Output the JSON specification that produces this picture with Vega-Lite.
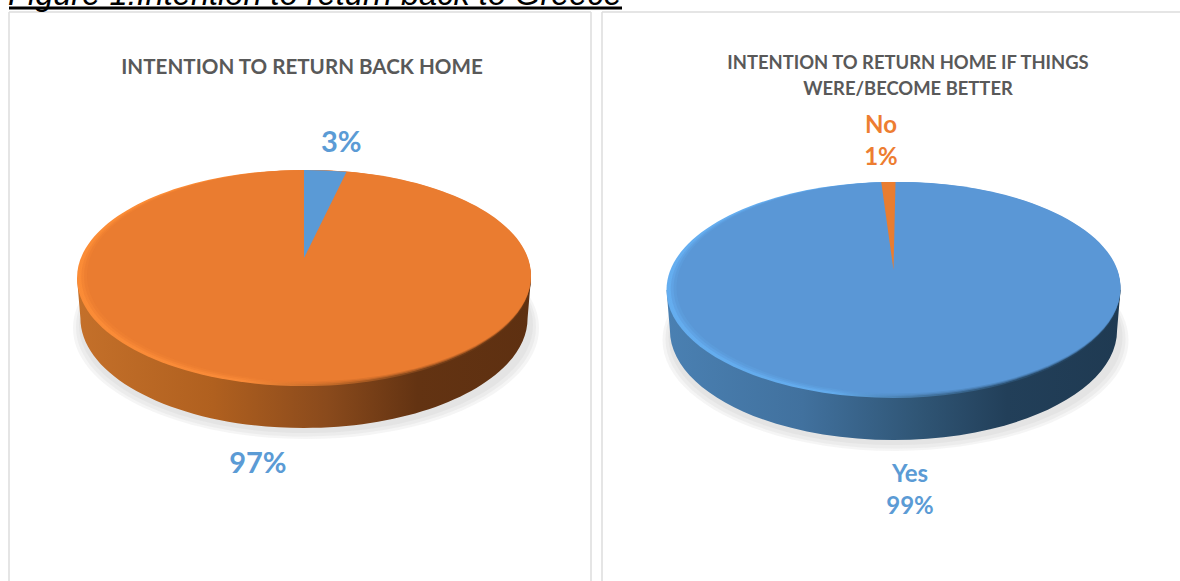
{
  "$schema": "https://vega.github.io/schema/vega-lite/v6.json",
  "background": "white",
  "padding": {"left": 7, "top": -21, "right": 0, "bottom": 0},
  "spacing": 11,
  "bounds": "flush",
  "config": {"view": {"stroke": null}, "title": {"font": "Lato", "fontWeight": "bold", "color": "#595959", "frame": "group", "anchor": "middle"}},
  "datasets": {
    "responses": [
      {"panel": "back home", "answer": "No", "share": 3},
      {"panel": "back home", "answer": "Yes", "share": 97},
      {"panel": "if better", "answer": "Yes", "share": 99},
      {"panel": "if better", "answer": "No", "share": 1}
    ]
  },
  "hconcat": [
    {
      "width": 582,
      "height": 569,
      "title": {"text": "INTENTION TO RETURN BACK HOME", "fontSize": 20.6, "offset": -100, "dx": 2},
      "data": {"name": "responses"},
      "transform": [
        {"filter": "datum.panel === 'back home'"},
        {"stack": "share", "groupby": ["panel"], "as": ["s0", "s1"]},
        {"calculate": "(datum.s0 + datum.s1) / 100 * PI", "as": "mid"},
        {"calculate": "(cos(datum.mid) > 0 ? 395 : 490) * sin(datum.mid)", "as": "labelX"},
        {"calculate": "cos(datum.mid) > 0 ? -135 : 186", "as": "labelY"},
        {"calculate": "datum.share + '%'", "as": "label"}
      ],
      "layer": [
        {
          "data": {"values": [{"edge": -295}, {"edge": 287}]},
          "mark": {"type": "rule", "color": "#dcdcdc", "strokeWidth": 1.5},
          "encoding": {"x": {"field": "edge", "type": "quantitative", "scale": {"domain": [-295, 287], "nice": false, "zero": false}, "axis": null}}
        },
        {
          "data": {"values": [{"edge": -266}]},
          "mark": {"type": "rule", "color": "#dcdcdc", "strokeWidth": 1.5},
          "encoding": {"y": {"field": "edge", "type": "quantitative", "scale": {"domain": [-266, 303], "reverse": true, "nice": false, "zero": false}, "axis": null}}
        },
        {
          "data": {"values": [{"from": -295, "to": 318, "level": -270}]},
          "mark": {"type": "rule", "color": "black", "strokeWidth": 3},
          "encoding": {
            "x": {"field": "from", "type": "quantitative", "scale": {"domain": [-295, 287], "nice": false, "zero": false}, "axis": null},
            "x2": {"field": "to"},
            "y": {"field": "level", "type": "quantitative", "scale": {"domain": [-266, 303], "reverse": true, "nice": false, "zero": false}, "axis": null}
          }
        },
        {
          "data": {"values": [{"caption": "Figure 1:Intention to return back to Greece", "from": -296, "level": -273}]},
          "mark": {"type": "text", "font": "Liberation Sans", "fontStyle": "italic", "fontSize": 32.6, "align": "left", "baseline": "alphabetic", "color": "black"},
          "encoding": {
            "x": {"field": "from", "type": "quantitative", "scale": {"domain": [-295, 287], "nice": false, "zero": false}, "axis": null},
            "y": {"field": "level", "type": "quantitative", "scale": {"domain": [-266, 303], "reverse": true, "nice": false, "zero": false}, "axis": null},
            "text": {"field": "caption"}
          }
        },
        {"transform": [{"filter": "datum.share >= 50"}], "encoding": {"x": {"datum": 0, "type": "quantitative", "scale": {"domain": [-295, 287], "nice": false, "zero": false}, "axis": null}, "y": {"datum": 0, "type": "quantitative", "scale": {"domain": [-266, 303], "reverse": true, "nice": false, "zero": false}, "axis": null}}, "mark": {"type": "point", "filled": true, "fill": "#b5b5b5", "opacity": 0.14, "strokeWidth": 0, "xOffset": 2, "yOffset": 50, "size": 217156, "shape": "M-1,0 C-1,-0.2629 -0.5523,-0.476 0,-0.476 C0.5523,-0.476 1,-0.2629 1,0 C1,0.2629 0.5523,0.476 0,0.476 C-0.5523,0.476 -1,0.2629 -1,0 Z"}},
        {"transform": [{"filter": "datum.share >= 50"}], "encoding": {"x": {"datum": 0, "type": "quantitative", "scale": {"domain": [-295, 287], "nice": false, "zero": false}, "axis": null}, "y": {"datum": 0, "type": "quantitative", "scale": {"domain": [-266, 303], "reverse": true, "nice": false, "zero": false}, "axis": null}}, "mark": {"type": "point", "filled": true, "fill": "#b5b5b5", "opacity": 0.14, "strokeWidth": 0, "xOffset": 2, "yOffset": 49, "size": 211600, "shape": "M-1,0 C-1,-0.2629 -0.5523,-0.476 0,-0.476 C0.5523,-0.476 1,-0.2629 1,0 C1,0.2629 0.5523,0.476 0,0.476 C-0.5523,0.476 -1,0.2629 -1,0 Z"}},
        {"transform": [{"filter": "datum.share >= 50"}], "encoding": {"x": {"datum": 0, "type": "quantitative", "scale": {"domain": [-295, 287], "nice": false, "zero": false}, "axis": null}, "y": {"datum": 0, "type": "quantitative", "scale": {"domain": [-266, 303], "reverse": true, "nice": false, "zero": false}, "axis": null}}, "mark": {"type": "point", "filled": true, "fill": "#b5b5b5", "opacity": 0.14, "strokeWidth": 0, "xOffset": 2, "yOffset": 47, "size": 206116, "shape": "M-1,0 C-1,-0.2629 -0.5523,-0.476 0,-0.476 C0.5523,-0.476 1,-0.2629 1,0 C1,0.2629 0.5523,0.476 0,0.476 C-0.5523,0.476 -1,0.2629 -1,0 Z"}},
        {"transform": [{"filter": "datum.share >= 50"}], "encoding": {"x": {"datum": 0, "type": "quantitative", "scale": {"domain": [-295, 287], "nice": false, "zero": false}, "axis": null}, "y": {"datum": 0, "type": "quantitative", "scale": {"domain": [-266, 303], "reverse": true, "nice": false, "zero": false}, "axis": null}}, "mark": {"type": "point", "filled": true, "opacity": 1, "strokeWidth": 0, "size": 206116, "shape": "M-1,0 L-0.985,0.176 C-0.985,0.444 -0.544,0.661 0,0.661 C0.544,0.661 0.985,0.444 0.985,0.176 L1,0 Z",
          "fill": {"gradient": "linear", "x1": 0, "y1": 0, "x2": 1, "y2": 0, "stops": [{"offset": 0, "color": "#c4702a"}, {"offset": 0.3, "color": "#b0601f"}, {"offset": 0.55, "color": "#8a4a1c"}, {"offset": 0.75, "color": "#633312"}, {"offset": 1, "color": "#5e3011"}]}}},
        {"transform": [{"filter": "datum.share >= 50"}], "encoding": {"x": {"datum": 0, "type": "quantitative", "scale": {"domain": [-295, 287], "nice": false, "zero": false}, "axis": null}, "y": {"datum": 0, "type": "quantitative", "scale": {"domain": [-266, 303], "reverse": true, "nice": false, "zero": false}, "axis": null}}, "mark": {"type": "point", "filled": true, "opacity": 1, "strokeWidth": 0, "size": 206116, "shape": "M-1,0 C-1,-0.2629 -0.5523,-0.476 0,-0.476 C0.5523,-0.476 1,-0.2629 1,0 C1,0.2629 0.5523,0.476 0,0.476 C-0.5523,0.476 -1,0.2629 -1,0 Z",
          "fill": {"gradient": "linear", "x1": 0, "y1": 0.3, "x2": 1, "y2": 0.7, "stops": [{"offset": 0, "color": "#fb8c36"}, {"offset": 0.55, "color": "#f98a38"}, {"offset": 0.72, "color": "#c46a28"}, {"offset": 0.88, "color": "#7a4119"}, {"offset": 1, "color": "#5f3212"}]}}},
        {"transform": [{"filter": "datum.share >= 50"}], "encoding": {"x": {"datum": 0, "type": "quantitative", "scale": {"domain": [-295, 287], "nice": false, "zero": false}, "axis": null}, "y": {"datum": 0, "type": "quantitative", "scale": {"domain": [-266, 303], "reverse": true, "nice": false, "zero": false}, "axis": null}}, "mark": {"type": "point", "filled": true, "fill": "#ea7c30", "opacity": 0.45, "strokeWidth": 0, "xOffset": 2, "yOffset": -1, "size": 201962, "shape": "M-1,0 C-1,-0.2629 -0.5523,-0.476 0,-0.476 C0.5523,-0.476 1,-0.2629 1,0 C1,0.2629 0.5523,0.476 0,0.476 C-0.5523,0.476 -1,0.2629 -1,0 Z"}},
        {"transform": [{"filter": "datum.share >= 50"}], "encoding": {"x": {"datum": 0, "type": "quantitative", "scale": {"domain": [-295, 287], "nice": false, "zero": false}, "axis": null}, "y": {"datum": 0, "type": "quantitative", "scale": {"domain": [-266, 303], "reverse": true, "nice": false, "zero": false}, "axis": null}}, "mark": {"type": "point", "filled": true, "fill": "#ea7c30", "opacity": 0.6, "strokeWidth": 0, "xOffset": 3.5, "yOffset": -1.7, "size": 199629, "shape": "M-1,0 C-1,-0.2629 -0.5523,-0.476 0,-0.476 C0.5523,-0.476 1,-0.2629 1,0 C1,0.2629 0.5523,0.476 0,0.476 C-0.5523,0.476 -1,0.2629 -1,0 Z"}},
        {"transform": [{"filter": "datum.share >= 50"}], "encoding": {"x": {"datum": 0, "type": "quantitative", "scale": {"domain": [-295, 287], "nice": false, "zero": false}, "axis": null}, "y": {"datum": 0, "type": "quantitative", "scale": {"domain": [-266, 303], "reverse": true, "nice": false, "zero": false}, "axis": null}}, "mark": {"type": "point", "filled": true, "fill": "#ea7c30", "opacity": 1, "strokeWidth": 0, "xOffset": 5, "yOffset": -2.4, "size": 197136, "shape": "M-1,0 C-1,-0.2629 -0.5523,-0.476 0,-0.476 C0.5523,-0.476 1,-0.2629 1,0 C1,0.2629 0.5523,0.476 0,0.476 C-0.5523,0.476 -1,0.2629 -1,0 Z"}},
        {
          "transform": [{"filter": "datum.share < 50"}],
          "encoding": {"x": {"datum": 0, "type": "quantitative", "scale": {"domain": [-295, 287], "nice": false, "zero": false}, "axis": null}, "y": {"datum": 0, "type": "quantitative", "scale": {"domain": [-266, 303], "reverse": true, "nice": false, "zero": false}, "axis": null}},
          "mark": {"type": "point", "filled": true, "fill": "#5a9ad6", "opacity": 1, "strokeWidth": 0, "size": 206116, "shape": "M0,-0.088 L0,-0.476 L0.0941,-0.4739 L0.1874,-0.4676 Z"}
        },
        {
          "mark": {"type": "text", "font": "Lato", "fontWeight": "bold", "fontSize": 29, "color": "#5b9bd5", "lineBreak": "\n", "lineHeight": 32, "baseline": "middle"},
          "encoding": {
            "x": {"field": "labelX", "type": "quantitative", "scale": {"domain": [-295, 287], "nice": false, "zero": false}, "axis": null},
            "y": {"field": "labelY", "type": "quantitative", "scale": {"domain": [-266, 303], "reverse": true, "nice": false, "zero": false}, "axis": null},
            "text": {"field": "label"}
          }
        }
      ]
    },
    {
      "width": 578,
      "height": 569,
      "title": {"text": ["INTENTION TO RETURN HOME IF THINGS", "WERE/BECOME BETTER"], "fontSize": 18.4, "lineHeight": 26, "offset": -87, "dx": 17},
      "data": {"name": "responses"},
      "transform": [
        {"filter": "datum.panel === 'if better'"},
        {"stack": "share", "groupby": ["panel"], "as": ["s0", "s1"]},
        {"calculate": "(datum.s0 + datum.s1 + 0.28) / 100 * PI", "as": "mid"},
        {"calculate": "(cos(datum.mid) > 0 ? 553 : 730) * sin(datum.mid)", "as": "labelX"},
        {"calculate": "cos(datum.mid) > 0 ? -164 : 185", "as": "labelY"},
        {"calculate": "datum.answer + '\\n' + datum.share + '%'", "as": "label"}
      ],
      "layer": [
        {
          "data": {"values": [{"edge": -291.5}]},
          "mark": {"type": "rule", "color": "#dcdcdc", "strokeWidth": 1.5},
          "encoding": {"x": {"field": "edge", "type": "quantitative", "scale": {"domain": [-291.5, 286.5], "nice": false, "zero": false}, "axis": null}}
        },
        {
          "data": {"values": [{"edge": -278}]},
          "mark": {"type": "rule", "color": "#dcdcdc", "strokeWidth": 1.5},
          "encoding": {"y": {"field": "edge", "type": "quantitative", "scale": {"domain": [-278, 291], "reverse": true, "nice": false, "zero": false}, "axis": null}}
        },
        {"transform": [{"filter": "datum.share >= 50"}], "encoding": {"x": {"datum": 0, "type": "quantitative", "scale": {"domain": [-291.5, 286.5], "nice": false, "zero": false}, "axis": null}, "y": {"datum": 0, "type": "quantitative", "scale": {"domain": [-278, 291], "reverse": true, "nice": false, "zero": false}, "axis": null}}, "mark": {"type": "point", "filled": true, "fill": "#b5b5b5", "opacity": 0.14, "strokeWidth": 0, "xOffset": 2, "yOffset": 50, "size": 217156, "shape": "M-1,0 C-1,-0.2629 -0.5523,-0.476 0,-0.476 C0.5523,-0.476 1,-0.2629 1,0 C1,0.2629 0.5523,0.476 0,0.476 C-0.5523,0.476 -1,0.2629 -1,0 Z"}},
        {"transform": [{"filter": "datum.share >= 50"}], "encoding": {"x": {"datum": 0, "type": "quantitative", "scale": {"domain": [-291.5, 286.5], "nice": false, "zero": false}, "axis": null}, "y": {"datum": 0, "type": "quantitative", "scale": {"domain": [-278, 291], "reverse": true, "nice": false, "zero": false}, "axis": null}}, "mark": {"type": "point", "filled": true, "fill": "#b5b5b5", "opacity": 0.14, "strokeWidth": 0, "xOffset": 2, "yOffset": 49, "size": 211600, "shape": "M-1,0 C-1,-0.2629 -0.5523,-0.476 0,-0.476 C0.5523,-0.476 1,-0.2629 1,0 C1,0.2629 0.5523,0.476 0,0.476 C-0.5523,0.476 -1,0.2629 -1,0 Z"}},
        {"transform": [{"filter": "datum.share >= 50"}], "encoding": {"x": {"datum": 0, "type": "quantitative", "scale": {"domain": [-291.5, 286.5], "nice": false, "zero": false}, "axis": null}, "y": {"datum": 0, "type": "quantitative", "scale": {"domain": [-278, 291], "reverse": true, "nice": false, "zero": false}, "axis": null}}, "mark": {"type": "point", "filled": true, "fill": "#b5b5b5", "opacity": 0.14, "strokeWidth": 0, "xOffset": 2, "yOffset": 47, "size": 206116, "shape": "M-1,0 C-1,-0.2629 -0.5523,-0.476 0,-0.476 C0.5523,-0.476 1,-0.2629 1,0 C1,0.2629 0.5523,0.476 0,0.476 C-0.5523,0.476 -1,0.2629 -1,0 Z"}},
        {"transform": [{"filter": "datum.share >= 50"}], "encoding": {"x": {"datum": 0, "type": "quantitative", "scale": {"domain": [-291.5, 286.5], "nice": false, "zero": false}, "axis": null}, "y": {"datum": 0, "type": "quantitative", "scale": {"domain": [-278, 291], "reverse": true, "nice": false, "zero": false}, "axis": null}}, "mark": {"type": "point", "filled": true, "opacity": 1, "strokeWidth": 0, "size": 206116, "shape": "M-1,0 L-0.985,0.176 C-0.985,0.444 -0.544,0.661 0,0.661 C0.544,0.661 0.985,0.444 0.985,0.176 L1,0 Z",
          "fill": {"gradient": "linear", "x1": 0, "y1": 0, "x2": 1, "y2": 0, "stops": [{"offset": 0, "color": "#4a80b2"}, {"offset": 0.3, "color": "#41719e"}, {"offset": 0.55, "color": "#305676"}, {"offset": 0.75, "color": "#223f59"}, {"offset": 1, "color": "#1f3a52"}]}}},
        {"transform": [{"filter": "datum.share >= 50"}], "encoding": {"x": {"datum": 0, "type": "quantitative", "scale": {"domain": [-291.5, 286.5], "nice": false, "zero": false}, "axis": null}, "y": {"datum": 0, "type": "quantitative", "scale": {"domain": [-278, 291], "reverse": true, "nice": false, "zero": false}, "axis": null}}, "mark": {"type": "point", "filled": true, "opacity": 1, "strokeWidth": 0, "size": 206116, "shape": "M-1,0 C-1,-0.2629 -0.5523,-0.476 0,-0.476 C0.5523,-0.476 1,-0.2629 1,0 C1,0.2629 0.5523,0.476 0,0.476 C-0.5523,0.476 -1,0.2629 -1,0 Z",
          "fill": {"gradient": "linear", "x1": 0, "y1": 0.3, "x2": 1, "y2": 0.7, "stops": [{"offset": 0, "color": "#65aef0"}, {"offset": 0.55, "color": "#63abec"}, {"offset": 0.72, "color": "#4578a6"}, {"offset": 0.88, "color": "#2a4f70"}, {"offset": 1, "color": "#1f3a52"}]}}},
        {"transform": [{"filter": "datum.share >= 50"}], "encoding": {"x": {"datum": 0, "type": "quantitative", "scale": {"domain": [-291.5, 286.5], "nice": false, "zero": false}, "axis": null}, "y": {"datum": 0, "type": "quantitative", "scale": {"domain": [-278, 291], "reverse": true, "nice": false, "zero": false}, "axis": null}}, "mark": {"type": "point", "filled": true, "fill": "#5a97d6", "opacity": 0.45, "strokeWidth": 0, "xOffset": 2, "yOffset": -1, "size": 201962, "shape": "M-1,0 C-1,-0.2629 -0.5523,-0.476 0,-0.476 C0.5523,-0.476 1,-0.2629 1,0 C1,0.2629 0.5523,0.476 0,0.476 C-0.5523,0.476 -1,0.2629 -1,0 Z"}},
        {"transform": [{"filter": "datum.share >= 50"}], "encoding": {"x": {"datum": 0, "type": "quantitative", "scale": {"domain": [-291.5, 286.5], "nice": false, "zero": false}, "axis": null}, "y": {"datum": 0, "type": "quantitative", "scale": {"domain": [-278, 291], "reverse": true, "nice": false, "zero": false}, "axis": null}}, "mark": {"type": "point", "filled": true, "fill": "#5a97d6", "opacity": 0.6, "strokeWidth": 0, "xOffset": 3.5, "yOffset": -1.7, "size": 199629, "shape": "M-1,0 C-1,-0.2629 -0.5523,-0.476 0,-0.476 C0.5523,-0.476 1,-0.2629 1,0 C1,0.2629 0.5523,0.476 0,0.476 C-0.5523,0.476 -1,0.2629 -1,0 Z"}},
        {"transform": [{"filter": "datum.share >= 50"}], "encoding": {"x": {"datum": 0, "type": "quantitative", "scale": {"domain": [-291.5, 286.5], "nice": false, "zero": false}, "axis": null}, "y": {"datum": 0, "type": "quantitative", "scale": {"domain": [-278, 291], "reverse": true, "nice": false, "zero": false}, "axis": null}}, "mark": {"type": "point", "filled": true, "fill": "#5a97d6", "opacity": 1, "strokeWidth": 0, "xOffset": 5, "yOffset": -2.4, "size": 197136, "shape": "M-1,0 C-1,-0.2629 -0.5523,-0.476 0,-0.476 C0.5523,-0.476 1,-0.2629 1,0 C1,0.2629 0.5523,0.476 0,0.476 C-0.5523,0.476 -1,0.2629 -1,0 Z"}},
        {
          "transform": [{"filter": "datum.share < 50"}],
          "encoding": {"x": {"datum": 0, "type": "quantitative", "scale": {"domain": [-291.5, 286.5], "nice": false, "zero": false}, "axis": null}, "y": {"datum": 0, "type": "quantitative", "scale": {"domain": [-278, 291], "reverse": true, "nice": false, "zero": false}, "axis": null}},
          "mark": {"type": "point", "filled": true, "fill": "#e97d31", "opacity": 1, "strokeWidth": 0, "size": 206116, "shape": "M0,-0.088 L-0.054,-0.4753 L-0.0226,-0.4759 L0.0088,-0.476 Z"}
        },
        {
          "mark": {"type": "text", "font": "Lato", "fontWeight": "bold", "fontSize": 24, "lineBreak": "\n", "lineHeight": 32, "baseline": "middle"},
          "encoding": {
            "x": {"field": "labelX", "type": "quantitative", "scale": {"domain": [-291.5, 286.5], "nice": false, "zero": false}, "axis": null},
            "y": {"field": "labelY", "type": "quantitative", "scale": {"domain": [-278, 291], "reverse": true, "nice": false, "zero": false}, "axis": null},
            "text": {"field": "label"},
            "color": {"condition": {"test": "datum.share < 50", "value": "#ed7d31"}, "value": "#5b9bd5"}
          }
        }
      ]
    }
  ]
}
